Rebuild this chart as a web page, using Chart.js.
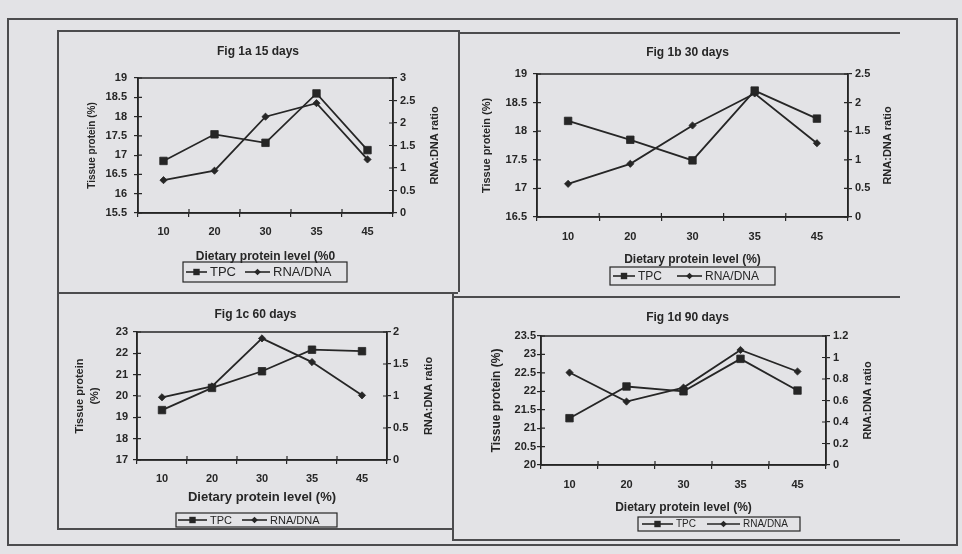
<!DOCTYPE html>
<html>
<head>
<meta charset="utf-8">
<script src="https://cdn.jsdelivr.net/npm/chart.js@4.4.0/dist/chart.umd.min.js"></script>
<style>
  body { margin: 0; width: 962px; height: 554px; background: #e3e3e6; position: relative; overflow: hidden; }
  .ln { position: absolute; background: #4c4c4e; }
  canvas { position: absolute; }
</style>
</head>
<body>
<!-- outer frame -->
<div class="ln" style="left:7px;top:18px;width:951px;height:2px"></div>
<div class="ln" style="left:7px;top:18px;width:2px;height:528px"></div>
<div class="ln" style="left:956px;top:18px;width:2px;height:528px"></div>
<div class="ln" style="left:7px;top:544px;width:951px;height:2px"></div>
<!-- panel borders -->
<div class="ln" style="left:57px;top:30px;width:401px;height:1.5px"></div>
<div class="ln" style="left:458px;top:32px;width:442px;height:1.5px"></div>
<div class="ln" style="left:57px;top:30px;width:1.5px;height:498px"></div>
<div class="ln" style="left:458px;top:30px;width:1.5px;height:262px"></div>
<div class="ln" style="left:57px;top:292px;width:401px;height:1.5px"></div>
<div class="ln" style="left:452px;top:296px;width:448px;height:1.5px"></div>
<div class="ln" style="left:452px;top:292px;width:1.5px;height:248px"></div>
<div class="ln" style="left:57px;top:528px;width:395px;height:1.5px"></div>
<div class="ln" style="left:452px;top:539px;width:448px;height:1.5px"></div>

<script>
// data
const levels = ['10', '20', '30', '35', '45'];

const tpc15 = [16.85, 17.54, 17.32, 18.6, 17.13];
const rna15 = [0.73, 0.94, 2.14, 2.44, 1.19];
const tpc30 = [18.18, 17.85, 17.49, 18.71, 18.22];
const rna30 = [0.58, 0.93, 1.6, 2.16, 1.29];
const tpc60 = [19.34, 20.38, 21.16, 22.17, 22.1];
const rna60 = [0.98, 1.15, 1.9, 1.53, 1.01];
const tpc90 = [21.27, 22.13, 22.0, 22.88, 22.02];
const rna90 = [0.86, 0.59, 0.72, 1.07, 0.87];

const seriesNames = ['TPC', 'RNA/DNA'];
const titles = ['Fig 1a 15 days', 'Fig 1b 30 days', 'Fig 1c 60 days', 'Fig 1d 90 days'];
const xTitles = ['Dietary protein level (%0', 'Dietary protein level (%)', 'Dietary protein level (%)', 'Dietary protein level (%)'];
const yTitles = ['Tissue protein (%)', 'Tissue protein (%)', ['Tissue protein', '(%)'], 'Tissue protein (%)'];
const y2Title = 'RNA:DNA ratio';
// [min, max, step]
const leftRanges = [[15.5, 19, 0.5], [16.5, 19, 0.5], [17, 23, 1], [20, 23.5, 0.5]];
const rightRanges = [[0, 3, 0.5], [0, 2.5, 0.5], [0, 2, 0.5], [0, 1.2, 0.2]];

// where each panel sits on the page
const panels = [
  {box: [59, 31, 398, 260], plot: [138, 78, 393, 213], titleY: 52, tickY: 232, xTitleY: 257, xTitleSize: 12,
   yTitleX: 92, yTitleSize: 10, y2TitleX: 435, yGap: 11, y2Gap: 7,
   legend: [183, 262, 347, 282], legendFont: 13, legendX: [186, 245], legendLen: [21, 25]},
  {box: [460, 34, 455, 261], plot: [537, 74, 848, 217], titleY: 53, tickY: 237, xTitleY: 260, xTitleSize: 12,
   yTitleX: 487, yTitleSize: 11, y2TitleX: 888, yGap: 10, y2Gap: 7,
   legend: [610, 267, 775, 285], legendFont: 12, legendX: [613, 677], legendLen: [22, 25]},
  {box: [59, 294, 393, 234], plot: [137, 332, 387, 460], titleY: 315, tickY: 479, xTitleY: 497, xTitleSize: 13,
   yTitleX: 80, yTitleSize: 11, y2TitleX: 429, yGap: 9, y2Gap: 6,
   legend: [176, 513, 337, 527], legendFont: 11, legendX: [178, 242], legendLen: [29, 25]},
  {box: [454, 298, 467, 241], plot: [541, 336, 826, 465], titleY: 318, tickY: 485, xTitleY: 508, xTitleSize: 12,
   yTitleX: 497, yTitleSize: 12, y2TitleX: 868, yGap: 5, y2Gap: 7,
   legend: [638, 517, 800, 531], legendFont: 10, legendX: [642, 707], legendLen: [31, 33]}
];

const ink = '#262626';
const fam = '"Liberation Sans", Arial, Helvetica, sans-serif';

function drawMarker(ctx, style, x, y, r) {
  ctx.beginPath();
  if (style == 'rect') {
    ctx.rect(x - r, y - r, 2 * r, 2 * r);
  } else {
    ctx.moveTo(x, y - r); ctx.lineTo(x + r, y); ctx.lineTo(x, y + r); ctx.lineTo(x - r, y);
    ctx.closePath();
  }
  ctx.fill();
}

const framePlugin = {
  id: 'frame',
  beforeDatasetsDraw(chart) {
    const {ctx, chartArea: a, scales} = chart;
    ctx.save();
    ctx.strokeStyle = ink;
    ctx.lineWidth = 1.5;
    ctx.strokeRect(a.left, a.top, a.right - a.left, a.bottom - a.top);
    ctx.lineWidth = 1.2;
    ctx.beginPath();
    scales.y.ticks.forEach((t, k) => {
      const y = scales.y.getPixelForTick(k);
      ctx.moveTo(a.left, y); ctx.lineTo(a.left + 4, y);
    });
    scales.y1.ticks.forEach((t, k) => {
      const y = scales.y1.getPixelForTick(k);
      ctx.moveTo(a.right, y); ctx.lineTo(a.right - 4, y);
    });
    const n = scales.x.ticks.length;
    const step = (a.right - a.left) / n;
    for (let k = 1; k < n; k++) {
      const x = a.left + k * step;
      ctx.moveTo(x, a.bottom); ctx.lineTo(x, a.bottom - 4);
    }
    ctx.stroke();
    ctx.restore();
  }
};

function makeChart(i, tpc, rna) {
  const p = panels[i];
  const [L, T, W, H] = p.box;
  const [pl, pt, pr, pb] = p.plot;
  const cv = document.createElement('canvas');
  cv.width = W; cv.height = H;
  cv.style.left = L + 'px';
  cv.style.top = T + 'px';
  document.body.appendChild(cv);

  const titleLh = 12 * 1.2;
  const titlePadTop = p.titleY - T - titleLh / 2;
  const titlePadBottom = (pt - T) - titlePadTop - titleLh;
  const multi = Array.isArray(yTitles[i]);
  const yLh = p.yTitleSize * (multi ? 1.4 : 1.2);

  // right axis title reads bottom-to-top like the left one
  const rightTitle = {
    id: 'rightTitle',
    afterDraw(chart) {
      const {ctx, chartArea: a} = chart;
      ctx.save();
      ctx.fillStyle = ink;
      ctx.font = 'bold 11px ' + fam;
      ctx.textAlign = 'center';
      ctx.textBaseline = 'middle';
      ctx.translate(p.y2TitleX - L, (a.top + a.bottom) / 2);
      ctx.rotate(-Math.PI / 2);
      ctx.fillText(y2Title, 0, 0);
      ctx.restore();
    }
  };

  const boxLegend = {
    id: 'boxLegend',
    afterDraw(chart) {
      const ctx = chart.ctx;
      const [x1, y1, x2, y2] = p.legend;
      const cy = (y1 + y2) / 2 - T;
      ctx.save();
      ctx.strokeStyle = ink;
      ctx.lineWidth = 1.2;
      ctx.strokeRect(x1 - L, y1 - T, x2 - x1, y2 - y1);
      ctx.fillStyle = ink;
      ctx.font = p.legendFont + 'px ' + fam;
      ctx.textBaseline = 'middle';
      seriesNames.forEach((name, k) => {
        const x = p.legendX[k] - L;
        const len = p.legendLen[k];
        ctx.lineWidth = 1.6;
        ctx.beginPath();
        ctx.moveTo(x, cy); ctx.lineTo(x + len, cy);
        ctx.stroke();
        drawMarker(ctx, k == 0 ? 'rect' : 'diamond', x + len / 2, cy, k == 0 ? 3.2 : 3.3);
        ctx.fillText(name, x + len + 3, cy + 0.5);
      });
      ctx.restore();
    }
  };

  const tickFont = {family: fam, size: 11, weight: 'bold'};
  const fmt = v => String(Math.round(v * 10) / 10);

  new Chart(cv, {
    type: 'line',
    data: {
      labels: levels,
      datasets: [
        {label: seriesNames[0], data: tpc, yAxisID: 'y', borderColor: ink, backgroundColor: ink,
         borderWidth: 1.8, pointStyle: 'rect', pointRadius: 5.3, pointBorderWidth: 0.8, tension: 0},
        {label: seriesNames[1], data: rna, yAxisID: 'y1', borderColor: ink, backgroundColor: ink,
         borderWidth: 1.8, pointStyle: 'rectRot', pointRadius: 3.6, pointBorderWidth: 0.8, tension: 0}
      ]
    },
    options: {
      responsive: false,
      animation: false,
      devicePixelRatio: 1,
      layout: {padding: 0},
      plugins: {
        legend: {display: false},
        tooltip: {enabled: false},
        title: {
          display: true, text: titles[i], color: ink,
          font: {family: fam, size: 12, weight: 'bold', lineHeight: 1.2},
          padding: {top: titlePadTop, bottom: titlePadBottom}
        }
      },
      scales: {
        x: {
          type: 'category',
          offset: true,
          grid: {offset: true, drawOnChartArea: false, tickLength: 4, color: ink, lineWidth: 1.2},
          border: {color: ink, width: 1.5},
          ticks: {color: ink, font: tickFont, padding: p.tickY - pb - 4 - 6.6, maxRotation: 0, autoSkip: false},
          title: {
            display: true, text: xTitles[i], color: ink,
            font: {family: fam, size: p.xTitleSize, weight: 'bold', lineHeight: 1.2},
            padding: {top: 0, bottom: (T + H) - p.xTitleY - p.xTitleSize * 0.6}
          },
          afterFit: s => { s.height = (T + H) - pb; }
        },
        y: {
          position: 'left',
          min: leftRanges[i][0], max: leftRanges[i][1],
          grid: {drawOnChartArea: false, tickLength: 4, color: ink, lineWidth: 1.2},
          border: {color: ink, width: 1.5},
          ticks: {stepSize: leftRanges[i][2], color: ink, font: tickFont, padding: p.yGap - 4, callback: fmt},
          title: {
            display: true, text: yTitles[i], color: ink,
            font: {family: fam, size: p.yTitleSize, weight: 'bold', lineHeight: multi ? 1.4 : 1.2},
            padding: {top: (p.yTitleX - L) - yLh / 2, bottom: 0}
          },
          afterFit: s => { s.width = pl - L; }
        },
        y1: {
          position: 'right',
          min: rightRanges[i][0], max: rightRanges[i][1],
          grid: {drawOnChartArea: false, tickLength: 4, color: ink, lineWidth: 1.2},
          border: {color: ink, width: 1.5},
          ticks: {stepSize: rightRanges[i][2], color: ink, font: tickFont, padding: p.y2Gap - 4, callback: fmt},
          afterFit: s => { s.width = (L + W) - pr; }
        }
      }
    },
    plugins: [framePlugin, rightTitle, boxLegend]
  });
}

makeChart(0, tpc15, rna15);
makeChart(1, tpc30, rna30);
makeChart(2, tpc60, rna60);
makeChart(3, tpc90, rna90);
</script>
</body>
</html>
